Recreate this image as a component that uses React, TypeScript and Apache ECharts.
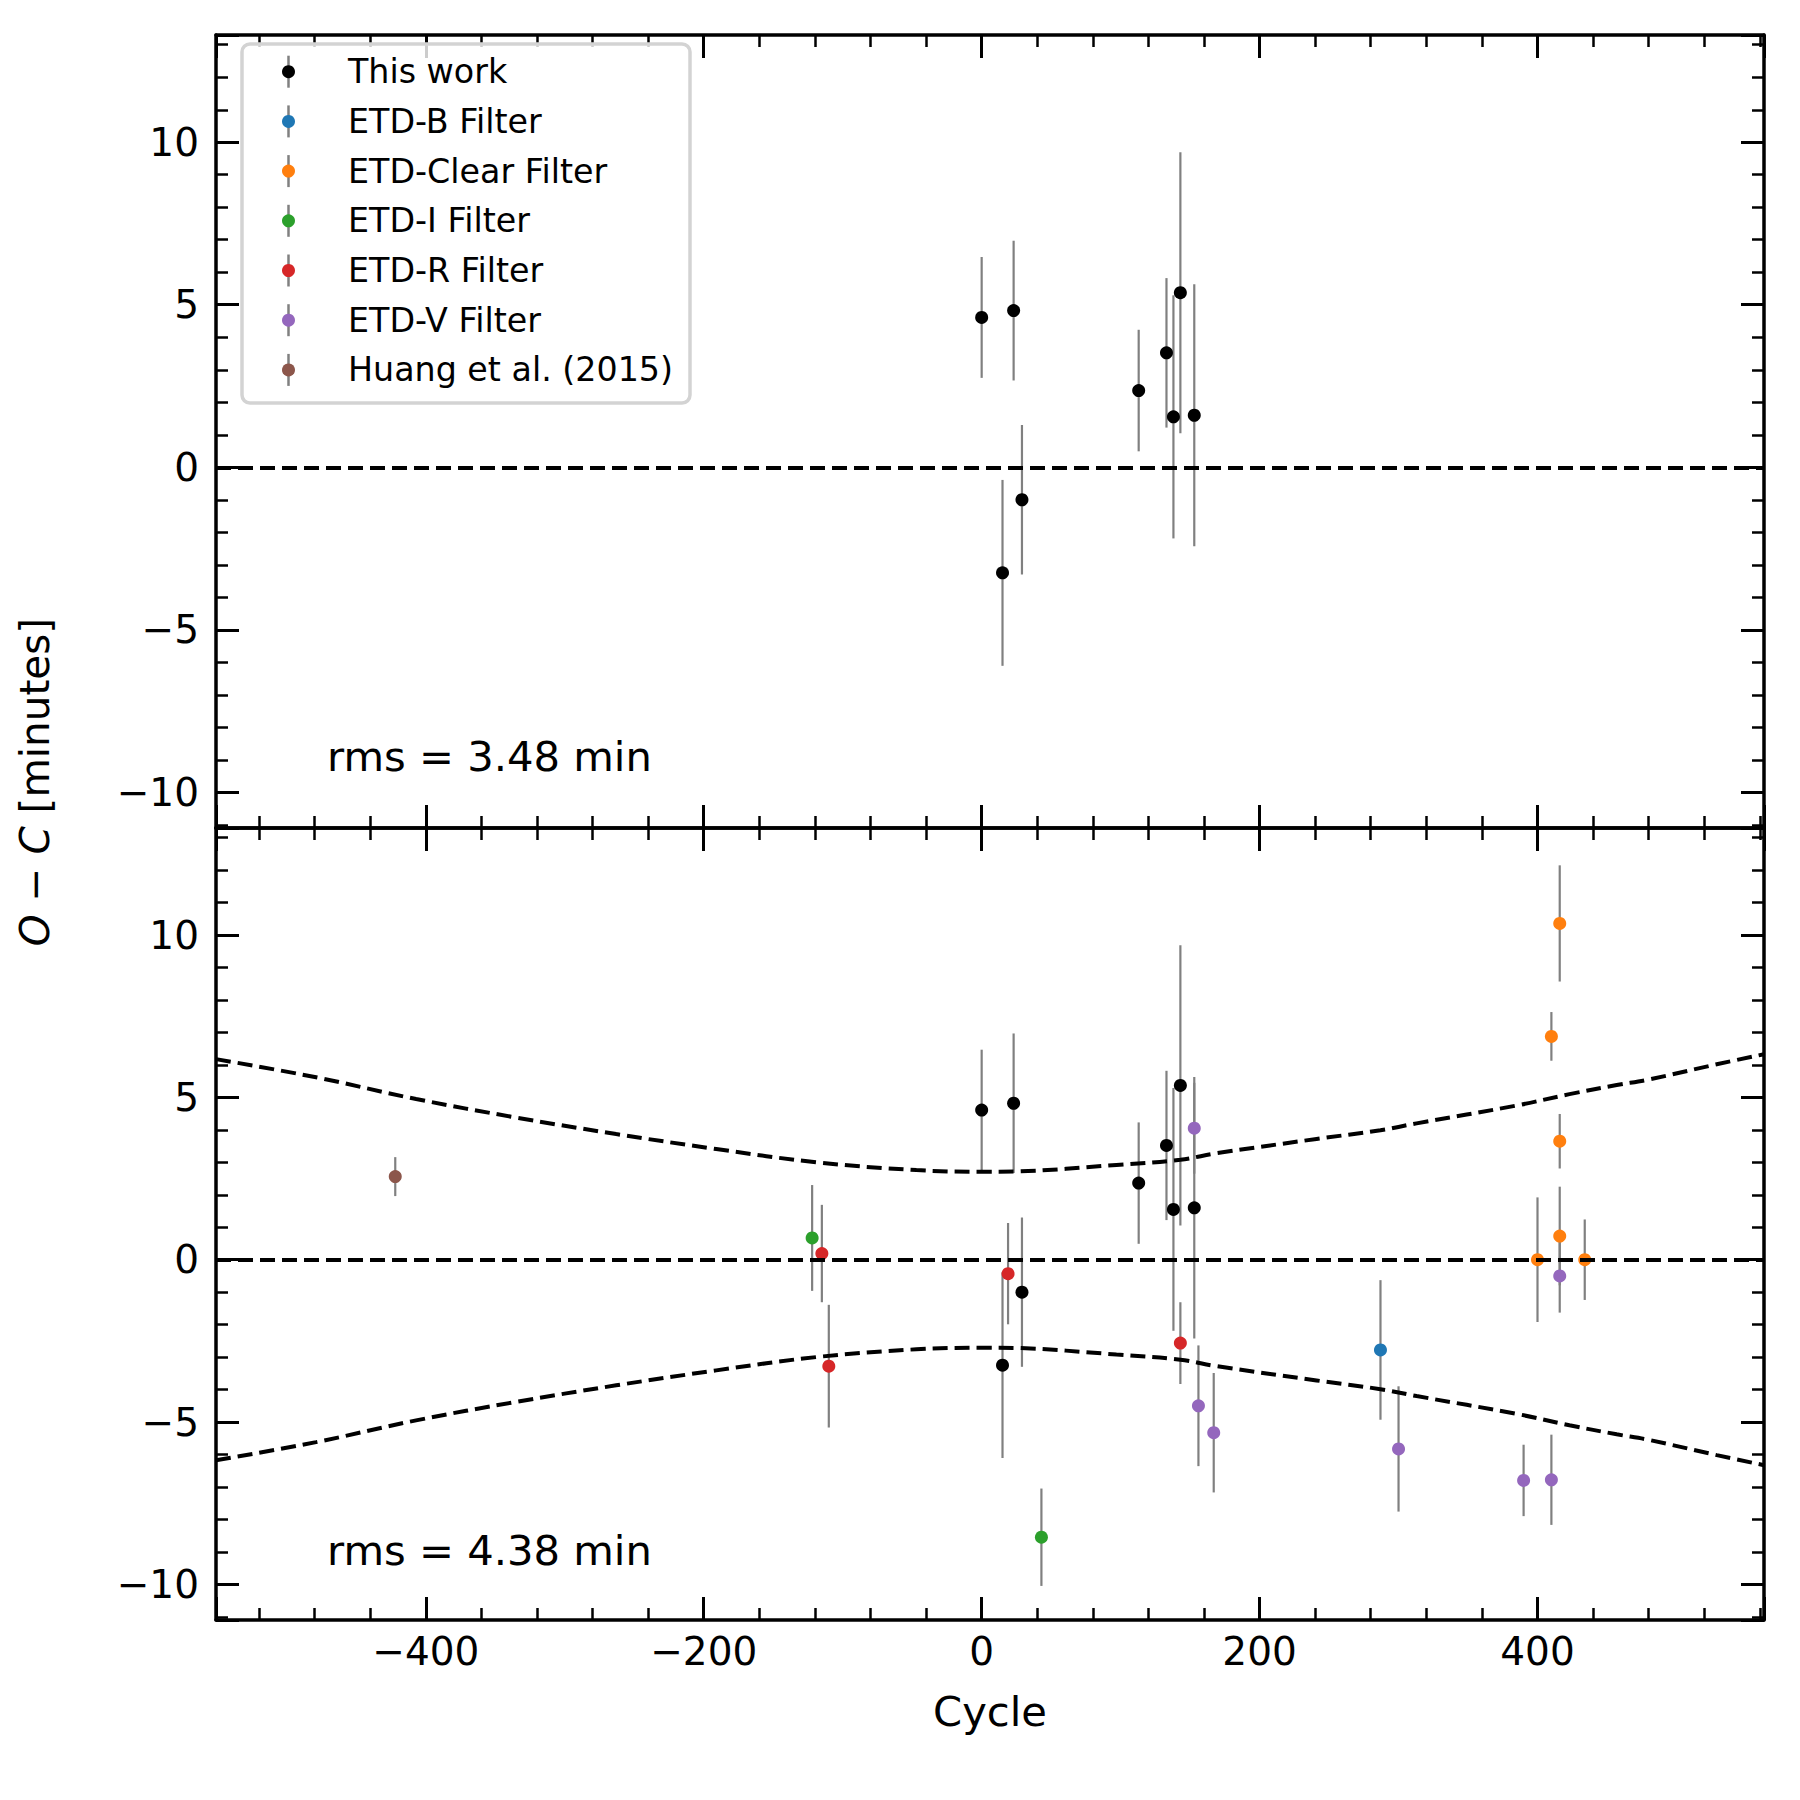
import React, { useEffect, useRef } from 'react';
import * as echarts from 'echarts';

const FONT = 'DejaVu Sans';

// axis limits and ticks
const X_MIN = -551;
const X_MAX = 563;
const Y_MIN = -11.1;
const Y_MAX = 13.3;

// This work
const thisWorkCycle = [0, 15, 23, 29, 113, 133, 138, 143, 153];
const thisWorkOC = [4.61, -3.25, 4.82, -1.0, 2.36, 3.52, 1.55, 5.37, 1.6];
const thisWorkErr = [1.86, 2.86, 2.15, 2.3, 1.87, 2.3, 3.74, 4.32, 4.03];

// ETD-B Filter
const etdBCycle = [287];
const etdBOC = [-2.78];
const etdBErr = [2.15];

// ETD-Clear Filter
const etdClearCycle = [400, 410, 416, 416, 416, 434];
const etdClearOC = [0.0, 6.88, 3.65, 0.73, 10.36, 0.0];
const etdClearErr = [1.92, 0.75, 0.84, 1.52, 1.79, 1.24];

// ETD-I Filter
const etdICycle = [-122, 43];
const etdIOC = [0.67, -8.55];
const etdIErr = [1.63, 1.5];

// ETD-R Filter
const etdRCycle = [-115, -110, 19, 143];
const etdROC = [0.19, -3.28, -0.43, -2.57];
const etdRErr = [1.5, 1.89, 1.56, 1.26];

// ETD-V Filter
const etdVCycle = [153, 156, 167, 300, 390, 410, 416];
const etdVOC = [4.05, -4.5, -5.33, -5.83, -6.8, -6.78, -0.5];
const etdVErr = [1.4, 1.86, 1.84, 1.93, 1.1, 1.39, 1.13];

// Huang et al. (2015)
const huangCycle = [-422];
const huangOC = [2.56];
const huangErr = [0.6];

// uncertainty envelope
const envCycle = [-551, -479, -407, -335, -263, -191, -119, -47, 0, 25, 97, 143, 169, 241, 287, 313, 385, 423, 457, 480, 529, 563];
const envUpper = [6.18, 5.62, 4.95, 4.38, 3.87, 3.41, 3.0, 2.76, 2.71, 2.72, 2.92, 3.08, 3.28, 3.72, 3.99, 4.2, 4.75, 5.1, 5.38, 5.55, 6.02, 6.33];
const envLower = [-6.18, -5.62, -4.95, -4.38, -3.87, -3.41, -3.0, -2.76, -2.71, -2.72, -2.92, -3.08, -3.28, -3.72, -3.99, -4.2, -4.75, -5.1, -5.38, -5.55, -6.02, -6.33];

const rmsTexts = ['rms = 3.48 min', 'rms = 4.38 min'];

const groups = [
  { name: 'This work', color: '#000000', cycle: thisWorkCycle, oc: thisWorkOC, err: thisWorkErr },
  { name: 'ETD-B Filter', color: '#1f77b4', cycle: etdBCycle, oc: etdBOC, err: etdBErr },
  { name: 'ETD-Clear Filter', color: '#ff7f0e', cycle: etdClearCycle, oc: etdClearOC, err: etdClearErr },
  { name: 'ETD-I Filter', color: '#2ca02c', cycle: etdICycle, oc: etdIOC, err: etdIErr },
  { name: 'ETD-R Filter', color: '#d62728', cycle: etdRCycle, oc: etdROC, err: etdRErr },
  { name: 'ETD-V Filter', color: '#9467bd', cycle: etdVCycle, oc: etdVOC, err: etdVErr },
  { name: 'Huang et al. (2015)', color: '#8c564b', cycle: huangCycle, oc: huangOC, err: huangErr },
];

const fmt = (v: number) => (v < 0 ? '\u2212' + Math.abs(v) : String(v));

function makeAxis(kind: 'x' | 'y', gridIndex: number, position: string, showLabels: boolean) {
  const isX = kind === 'x';
  return {
    type: 'value',
    gridIndex,
    position,
    min: isX ? X_MIN : Y_MIN,
    max: isX ? X_MAX : Y_MAX,
    minInterval: isX ? 200 : 5,
    maxInterval: isX ? 200 : 5,
    splitNumber: 5,
    splitLine: { show: false },
    minorSplitLine: { show: false },
    axisLine: { show: true, onZero: false, lineStyle: { color: '#000', width: 3.5 } },
    axisTick: { show: true, inside: true, length: 23, lineStyle: { color: '#000', width: 3 } },
    minorTick: { show: true, splitNumber: 5, length: 12, lineStyle: { color: '#000', width: 2.5 } },
    axisLabel: {
      show: showLabels,
      inside: false,
      margin: isX ? 12 : 17,
      color: '#000',
      fontSize: 39,
      fontFamily: FONT,
      showMinLabel: false,
      showMaxLabel: false,
      formatter: fmt,
    },
  };
}

function errSeries(axisIndex: number, g: any) {
  return {
    type: 'custom',
    xAxisIndex: axisIndex,
    yAxisIndex: axisIndex,
    silent: true,
    z: 2,
    data: g.cycle.map((c: number, i: number) => [c, g.oc[i] - g.err[i], g.oc[i] + g.err[i]]),
    encode: { x: 0, y: [1, 2] },
    renderItem: (params: any, api: any) => {
      const p1 = api.coord([api.value(0), api.value(1)]);
      const p2 = api.coord([api.value(0), api.value(2)]);
      return {
        type: 'line',
        shape: { x1: p1[0], y1: p1[1], x2: p2[0], y2: p2[1] },
        style: { stroke: '#808080', lineWidth: 2.2 },
      };
    },
  };
}

function pointSeries(axisIndex: number, g: any) {
  return {
    type: 'scatter',
    name: g.name,
    xAxisIndex: axisIndex,
    yAxisIndex: axisIndex,
    symbol: 'circle',
    symbolSize: 13,
    z: 3,
    itemStyle: { color: g.color, opacity: 1 },
    data: g.cycle.map((c: number, i: number) => [c, g.oc[i]]),
  };
}

const zeroLine = {
  silent: true,
  symbol: ['none', 'none'],
  label: { show: false },
  lineStyle: { color: '#000', width: 4, type: [15, 7] },
  data: [{ yAxis: 0 }],
};

function buildOption() {
  const series: any[] = [];
  // top panel: this work only
  series.push(errSeries(0, groups[0]));
  series.push({ ...pointSeries(0, groups[0]), markLine: zeroLine });

  // bottom panel: envelope curves
  const curveStyle = { color: '#000', width: 4, type: [15, 7] };
  series.push({
    type: 'line', xAxisIndex: 2, yAxisIndex: 2, symbol: 'none', showSymbol: false, smooth: 0.35, silent: true, z: 2,
    lineStyle: curveStyle, data: envCycle.map((c, i) => [c, envUpper[i]]),
  });
  series.push({
    type: 'line', xAxisIndex: 2, yAxisIndex: 2, symbol: 'none', showSymbol: false, smooth: 0.35, silent: true, z: 2,
    lineStyle: curveStyle, data: envCycle.map((c, i) => [c, envLower[i]]),
  });
  groups.forEach((g, gi) => {
    series.push(errSeries(2, g));
    const ps: any = pointSeries(2, g);
    if (gi === 0) ps.markLine = zeroLine;
    series.push(ps);
  });

  // legend drawn with graphic elements
  const legendLeft = 242;
  const legendTop = 44;
  const rowStart = 71.7;
  const rowStep = 49.7;
  const legendEls: any[] = [
    {
      type: 'rect',
      shape: { x: legendLeft, y: legendTop, width: 448, height: 359, r: 8 },
      style: { fill: 'rgba(255,255,255,0.8)', stroke: '#d3d3d3', lineWidth: 3.5 },
      z: 100,
    },
  ];
  groups.forEach((g, i) => {
    const y = rowStart + i * rowStep;
    legendEls.push({
      type: 'line',
      shape: { x1: 288.5, y1: y - 16, x2: 288.5, y2: y + 16 },
      style: { stroke: '#808080', lineWidth: 2.5 },
      z: 101,
    });
    legendEls.push({
      type: 'circle',
      shape: { cx: 288.5, cy: y, r: 6.5 },
      style: { fill: g.color },
      z: 102,
    });
    legendEls.push({
      type: 'text',
      x: 348,
      y,
      style: { text: g.name, fontSize: 33.3, fontFamily: FONT, fill: '#000', align: 'left', verticalAlign: 'middle' },
      z: 102,
    });
  });

  const graphic: any[] = [
    ...legendEls,
    {
      type: 'text', x: 327, y: 756,
      style: { text: rmsTexts[0], fontSize: 41.7, fontFamily: FONT, fill: '#000', align: 'left', verticalAlign: 'middle' },
      z: 50,
    },
    {
      type: 'text', x: 327, y: 1550,
      style: { text: rmsTexts[1], fontSize: 41.7, fontFamily: FONT, fill: '#000', align: 'left', verticalAlign: 'middle' },
      z: 50,
    },
    {
      type: 'text', x: 990, y: 1711,
      style: { text: 'Cycle', fontSize: 41.7, fontFamily: FONT, fill: '#000', align: 'center', verticalAlign: 'middle' },
      z: 50,
    },
    {
      type: 'text', x: 35, y: 782, rotation: Math.PI / 2,
      style: {
        text: '{i|O} \u2212 {i|C} [minutes]',
        fontSize: 40.5, fontFamily: FONT, fill: '#000', align: 'center', verticalAlign: 'middle',
        rich: { i: { fontStyle: 'italic', fontSize: 40.5, fontFamily: FONT, fill: '#000' } },
      },
      z: 50,
    },
  ];

  return {
    animation: false,
    backgroundColor: '#ffffff',
    grid: [
      { left: 216, top: 35, width: 1548, height: 793, containLabel: false, outerBoundsMode: 'none' },
      { left: 216, top: 828, width: 1548, height: 792, containLabel: false, outerBoundsMode: 'none' },
    ],
    xAxis: [
      makeAxis('x', 0, 'bottom', false),
      makeAxis('x', 0, 'top', false),
      makeAxis('x', 1, 'bottom', true),
      makeAxis('x', 1, 'top', false),
    ],
    yAxis: [
      makeAxis('y', 0, 'left', true),
      makeAxis('y', 0, 'right', false),
      makeAxis('y', 1, 'left', true),
      makeAxis('y', 1, 'right', false),
    ],
    series,
    graphic,
  };
}

export default function App() {
  const ref = useRef<HTMLDivElement>(null);
  useEffect(() => {
    if (!ref.current) return;
    const chart = echarts.init(ref.current, undefined, { renderer: 'svg' });
    chart.setOption(buildOption() as any);
    return () => chart.dispose();
  }, []);
  return (
    <div
      ref={ref}
      style={{ position: 'absolute', left: 0, top: 0, width: 1800, height: 1800, background: '#fff' }}
    />
  );
}
